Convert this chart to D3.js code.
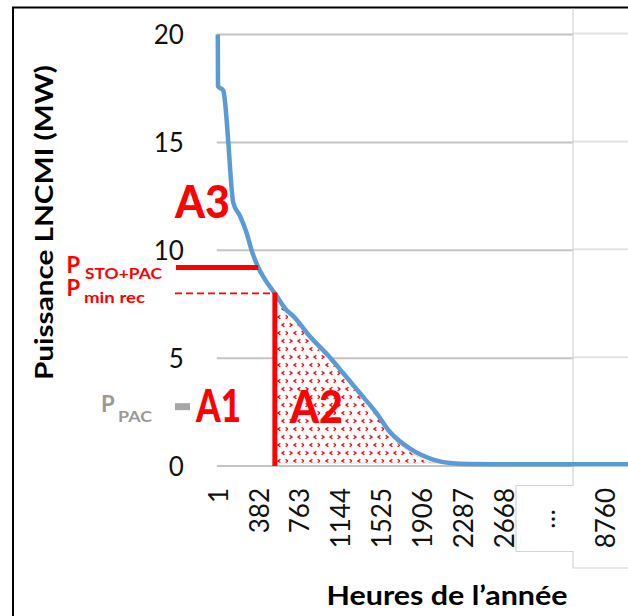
<!DOCTYPE html>
<html><head><meta charset="utf-8">
<script src="https://cdn.jsdelivr.net/npm/d3@7"></script>
<style>
html,body{margin:0;padding:0;background:#fff;}
svg{display:block;}
text{font-family:Lato,"Open Sans",sans-serif;}
</style></head><body>
<svg id="chart" width="628" height="616"></svg>
<script>
// Load-duration curve of the LNCMI power demand, sorted over the hours of the year
const hours = [1, 3, 52, 68, 84, 99, 145, 207, 270, 316, 378, 440, 533, 642, 705, 860, 1016, 1171, 1327, 1482, 1590, 1793, 2007, 2166, 2352, 2668, 3049, 8760];
const power = [20.0, 17.6, 17.4, 16.9, 16.0, 15.0, 12.2, 11.6, 10.8, 10.0, 9.2, 8.65, 8.0, 7.22, 6.95, 6.0, 5.2, 4.3, 3.37, 2.44, 1.67, 0.8, 0.3, 0.14, 0.09, 0.08, 0.08, 0.08];

// Axis ticks (the hours axis is broken between 3049 and the last hour of the year)
const yTicks = [0, 5, 10, 15, 20];
const tickHours = [1, 382, 763, 1144, 1525, 1906, 2287, 2668, 3049, 8760];
const tickLabels = ["1", "382", "763", "1144", "1525", "1906", "2287", "2668", "…", "8760"];

// Power thresholds (MW) and the hours where the curve reaches them
const pStoPac = 9.2, hStoPac = 378;
const pMinRec = 8.0, hMinRec = 533;
const pPac = 2.75;
const hA2End = 2166;

const data = hours.map((h, i) => ({h, v: power[i]}));

// Layout
const W = 628, H = 616;
const plotLeft = 217.8, plotTop = 34.5, plotBottom = 466, plotRight = 573, panelRight = 628;
const frameTop = 7.5, frameLeft = 13;
const tickTextTop = 488;
const breakBoxLeft = 516, breakBoxTop = 485.5, breakBoxBottom = 551.5, tailBoxBottom = 568;
const annotLeft = 175;

const red = "#ff0000", blue = "#5b9bd5", grey = "#a6a6a6";

const svg = d3.select("#chart");

const x = d3.scaleLinear().domain([1, 3049, 8760]).range([plotLeft, 544.8, 605]);
const y = d3.scaleLinear().domain([0, 20]).range([plotBottom, plotTop]);

// hatch pattern for the A2 area
const defs = svg.append("defs");
const pat = defs.append("pattern").attr("id", "hatchA2").attr("patternUnits", "userSpaceOnUse")
  .attr("width", 16).attr("height", 16).attr("x", 0).attr("y", 2);
pat.append("rect").attr("width", 16).attr("height", 16).attr("fill", "#fff");
const marks = [[3, 3, -1], [11, 3, 1], [7, 11, 1], [15, 11, -1]];
marks.forEach(([mx, my, dir]) => {
  pat.append("path")
    .attr("d", `M${mx + dir * 1.4},${my - 1.7}L${mx - dir * 1},${my}L${mx + dir * 1.4},${my + 1.7}`)
    .attr("fill", "none").attr("stroke", red).attr("stroke-width", 1.4);
});

// Frame
svg.append("line").attr("x1", frameLeft - 1).attr("x2", W).attr("y1", frameTop).attr("y2", frameTop)
  .attr("stroke", "#000").attr("stroke-width", 2);
svg.append("line").attr("x1", frameLeft).attr("x2", frameLeft).attr("y1", frameTop).attr("y2", H)
  .attr("stroke", "#000").attr("stroke-width", 2);

// Gridlines
const grid = svg.append("g");
grid.selectAll(".g1").data(yTicks).join("line")
  .attr("x1", plotLeft - 1).attr("x2", plotRight)
  .attr("y1", d => y(d)).attr("y2", d => y(d))
  .attr("stroke", "#c4c4c4").attr("stroke-width", 2);
grid.selectAll(".g2").data(yTicks).join("line")
  .attr("x1", plotRight).attr("x2", panelRight)
  .attr("y1", d => y(d) - 1).attr("y2", d => y(d) - 1)
  .attr("stroke", "#e2e2e2").attr("stroke-width", 2);

// Panel borders around the axis break
const boxLine = "#d4d4d4";
const bl = svg.append("g").attr("stroke", boxLine).attr("stroke-width", 1.2).attr("fill", "none");
bl.append("path").attr("d",
  `M${plotRight},${frameTop + 1}V${breakBoxTop}H${breakBoxLeft}V${breakBoxBottom}H${plotRight}V${tailBoxBottom}H${panelRight}`);

// Y axis
const yAxis = svg.append("g").attr("transform", `translate(${plotLeft},0)`)
  .call(d3.axisLeft(y).tickValues(yTicks).tickSize(0).tickPadding(34).tickFormat(d3.format("d")));
yAxis.select(".domain").remove();
yAxis.selectAll("text").style("font-size", "26px").attr("fill", "#111").attr("dy", "0.36em");

// X axis
const xAxis = svg.append("g").attr("transform", `translate(0,${plotBottom})`)
  .call(d3.axisBottom(x).tickValues(tickHours).tickSize(0).tickFormat((d, i) => tickLabels[i]));
xAxis.select(".domain").remove();
xAxis.selectAll("text")
  .style("font-size", "26px").attr("fill", "#111")
  .attr("transform", "rotate(-90)")
  .attr("text-anchor", d => d === 3049 ? "middle" : "end")
  .attr("x", d => d === 3049 ? -(519 - plotBottom) : -(tickTextTop - plotBottom))
  .attr("y", 0)
  .attr("dy", d => d === 3049 ? "0.36em" : "0.36em");

// A2 area (hatched) between the curve and zero, from the P_min rec hour onward
const a2data = data.filter(d => d.h >= hMinRec && d.h <= hA2End);
const area = d3.area().curve(d3.curveMonotoneX)
  .x(d => x(d.h))
  .y0(y(0) - 3)
  .y1(d => Math.min(y(d.v) + 3, y(0) - 3));
svg.append("path").datum(a2data).attr("d", area)
  .attr("fill", "url(#hatchA2)").attr("stroke", "#d8d8d8").attr("stroke-width", 0.8);

// Duration curve
const line = d3.line().curve(d3.curveMonotoneX).x(d => x(d.h)).y(d => y(d.v));
svg.append("path").datum(data)
  .attr("d", line(data) + `H${panelRight}`)
  .attr("fill", "none").attr("stroke", blue).attr("stroke-width", 4.5)
  .attr("stroke-linejoin", "round");

// Threshold markers
svg.append("line").attr("x1", annotLeft + 1).attr("x2", x(hStoPac))
  .attr("y1", y(pStoPac)).attr("y2", y(pStoPac))
  .attr("stroke", red).attr("stroke-width", 5);
svg.append("line").attr("x1", annotLeft).attr("x2", x(hMinRec))
  .attr("y1", y(pMinRec)).attr("y2", y(pMinRec))
  .attr("stroke", red).attr("stroke-width", 1.8).attr("stroke-dasharray", "7,4");
svg.append("line").attr("x1", x(hMinRec)).attr("x2", x(hMinRec))
  .attr("y1", y(pMinRec) - 1).attr("y2", y(0))
  .attr("stroke", red).attr("stroke-width", 5);
svg.append("line").attr("x1", annotLeft).attr("x2", annotLeft + 15)
  .attr("y1", y(pPac)).attr("y2", y(pPac))
  .attr("stroke", grey).attr("stroke-width", 7);

// Threshold labels: a large "P" with its subscript
function pLabel(px, baseline, color) {
  svg.append("text").attr("x", px).attr("y", baseline)
    .attr("fill", color).style("font-weight", 700).style("font-size", "22px").text("P");
}
function subLabel(sx, baseline, sub, len, color) {
  svg.append("text").attr("x", sx).attr("y", baseline).attr("fill", color)
    .style("font-weight", 700).style("font-size", "16px")
    .attr("textLength", len).attr("lengthAdjust", "spacingAndGlyphs").text(sub);
}
pLabel(66.5, 273, red);
subLabel(85, 278.5, "STO+PAC", 77, red);
pLabel(66.5, 295.5, red);
subLabel(84, 303, "min rec", 61, red);
pLabel(101, 411.5, "#999999");
subLabel(118, 422, "PAC", 34, "#999999");

// Area labels
function areaLabel(ax, baseline, txt, len) {
  svg.append("text").attr("x", ax).attr("y", baseline).attr("fill", red)
    .style("font-weight", 900).style("font-size", "45px")
    .attr("textLength", len).attr("lengthAdjust", "spacingAndGlyphs").text(txt);
}
areaLabel(175, 218, "A3", 55);
areaLabel(196, 422, "A1", 45);
areaLabel(290, 423, "A2", 53);

// Axis titles
svg.append("text").attr("transform", "translate(53,222.5) rotate(-90)")
  .attr("text-anchor", "middle").style("font-weight", 700).style("font-size", "24px")
  .attr("textLength", 315).attr("lengthAdjust", "spacingAndGlyphs")
  .attr("fill", "#000").text("Puissance LNCMI (MW)");
svg.append("text").attr("x", 326.5).attr("y", 605)
  .style("font-weight", 700).style("font-size", "27px")
  .attr("textLength", 241).attr("lengthAdjust", "spacingAndGlyphs")
  .attr("fill", "#000").text("Heures de l’année");
</script>
</body></html>
